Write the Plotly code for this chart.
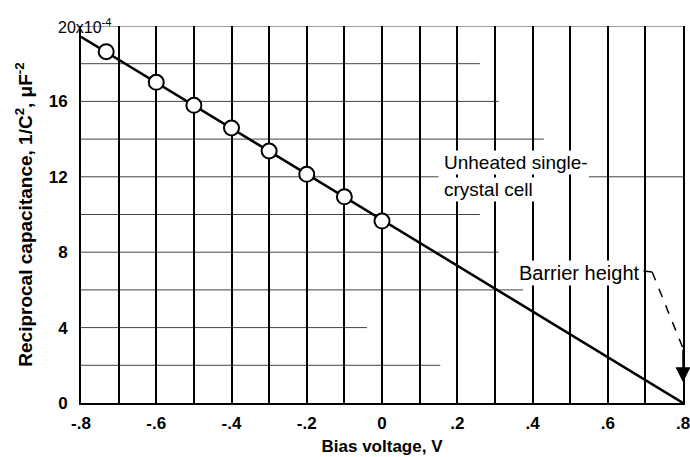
import plotly.graph_objects as go

# ---- data ----
bias_v = [-0.733, -0.6, -0.5, -0.4, -0.3, -0.2, -0.1, 0.0]
recip_cap = [18.64, 17.01, 15.79, 14.59, 13.37, 12.13, 10.94, 9.65]   # x10^-4 uF^-2
fit_x = [-0.8, 0.8]
fit_y = [19.43, 0.0]

x_tickvals = [-0.8, -0.7, -0.6, -0.5, -0.4, -0.3, -0.2, -0.1, 0.0, 0.1, 0.2, 0.3, 0.4, 0.5, 0.6, 0.7, 0.8]
x_ticktext = ["-.8", "", "-.6", "", "-.4", "", "-.2", "", "0", "", ".2", "", ".4", "", ".6", "", ".8"]
y_tickvals = [0, 2, 4, 6, 8, 10, 12, 14, 16, 18, 20]
y_ticktext = ["0", "", "4", "", "8", "", "12", "", "16", "", ""]

# horizontal rules of the original grid paper (level, start, end)
h_rules = [
    (2, -0.8, 0.155), (4, -0.8, -0.04), (6, -0.8, 0.375), (8, -0.8, 0.31),
    (10, -0.8, 0.26), (12, -0.8, 0.15), (12, 0.55, 0.8), (14, -0.8, 0.43),
    (16, -0.8, 0.31), (18, -0.8, 0.26), (20, -0.8, 0.8),
]

FONT = "Liberation Sans, Arial, sans-serif"

fig = go.Figure()

fig.add_trace(go.Scatter(
    x=fit_x, y=fit_y, mode="lines",
    line=dict(color="black", width=2.5), hoverinfo="skip", showlegend=False))
fig.add_trace(go.Scatter(
    x=bias_v, y=recip_cap, mode="markers",
    marker=dict(symbol="circle", size=15, color="white",
                line=dict(color="black", width=2)),
    showlegend=False))

shapes = []
for lvl, x0, x1 in h_rules:
    shapes.append(dict(type="line", xref="x", yref="y", x0=x0, x1=x1, y0=lvl, y1=lvl,
                       line=dict(color="#444", width=1), layer="below"))
# barrier-height leader
shapes.append(dict(type="line", xref="x", yref="y", x0=0.695, x1=0.718, y0=7.0, y1=6.95,
                   line=dict(color="black", width=1.5)))
shapes.append(dict(type="line", xref="x", yref="y", x0=0.718, x1=0.8, y0=6.95, y1=2.9,
                   line=dict(color="black", width=1.5, dash="dash")))

annotations = [
    dict(text="20x10<sup>-4</sup>", xref="paper", yref="paper", x=-0.042, y=1.0,
         xanchor="left", yanchor="middle", showarrow=False,
         font=dict(family=FONT, size=16, color="black")),
    dict(text="Unheated single-", xref="x", yref="y", x=0.16, y=12.75,
         xanchor="left", yanchor="middle", showarrow=False,
         font=dict(family=FONT, size=19, color="black"), bgcolor="white"),
    dict(text="crystal cell", xref="x", yref="y", x=0.16, y=11.35,
         xanchor="left", yanchor="middle", showarrow=False,
         font=dict(family=FONT, size=19, color="black"), bgcolor="white"),
    dict(text="Barrier height", xref="x", yref="y", x=0.692, y=6.9,
         xanchor="right", yanchor="middle", showarrow=False,
         font=dict(family=FONT, size=20, color="black"), bgcolor="white"),
    dict(text="", xref="x", yref="y", x=0.8, y=1.1, ax=0.8, ay=2.9,
         axref="x", ayref="y", showarrow=True, arrowhead=2, arrowsize=2,
         arrowwidth=1.5, arrowcolor="black"),
]

fig.update_layout(
    width=690, height=457,
    margin=dict(l=81, r=7, t=26, b=54, autoexpand=False),
    paper_bgcolor="white", plot_bgcolor="white",
    font=dict(family=FONT, size=17, color="black"),
    shapes=shapes, annotations=annotations,
    xaxis=dict(
        range=[-0.8, 0.8], tickmode="array", tickvals=x_tickvals,
        ticktext=["<b>%s</b>" % t if t else "" for t in x_ticktext],
        showgrid=True, gridcolor="black", gridwidth=1.6, zeroline=False,
        showline=True, linecolor="black", linewidth=2, ticks="", automargin=False,
        ticklabelstandoff=4, ticklabeloverflow="allow",
        tickfont=dict(family=FONT, size=17, color="black"),
        title=dict(text="<b>Bias voltage, V</b>", standoff=8,
                   font=dict(family=FONT, size=17, color="black")),
    ),
    yaxis=dict(
        range=[0, 20], tickmode="array", tickvals=y_tickvals,
        ticktext=["<b>%s</b>" % t if t else "" for t in y_ticktext],
        showgrid=False, zeroline=False, automargin=False,
        showline=True, linecolor="black", linewidth=2, mirror=True, ticks="",
        ticklabelstandoff=8,
        tickfont=dict(family=FONT, size=17, color="black"),
        title=dict(text="<b>Reciprocal capacitance, 1/C<sup>2</sup>, μF<sup>-2</sup></b>",
                   standoff=11, font=dict(family=FONT, size=19, color="black")),
    ),
)

# remove the browser's default 8px page margin so the figure fills the window exactly
fig.write_html("out.html",
               config={"displayModeBar": False},
               post_script="document.body.style.margin='0';document.body.style.overflow='hidden';")
